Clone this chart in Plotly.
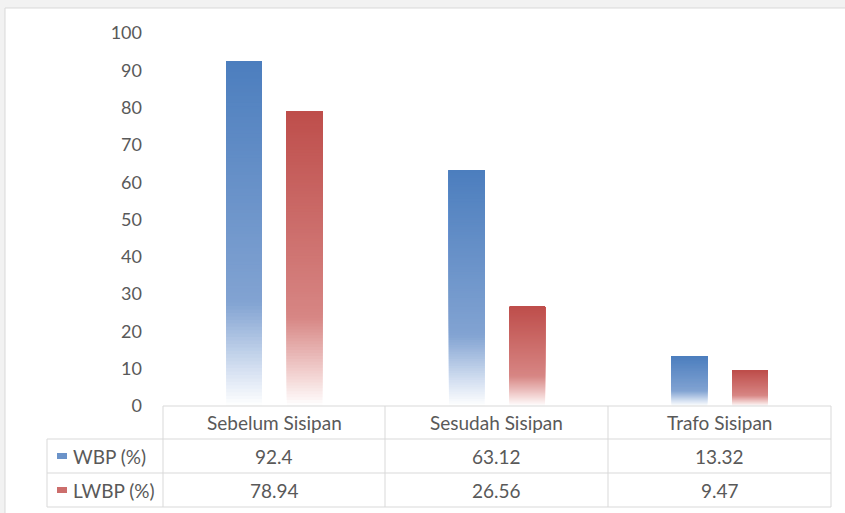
import plotly.graph_objects as go

categories = ["Sebelum Sisipan", "Sesudah Sisipan", "Trafo Sisipan"]
series_names = ["WBP (%)", "LWBP (%)"]
wbp = [92.4, 63.12, 13.32]
lwbp = [78.94, 26.56, 9.47]
value_labels_wbp = ["92.4", "63.12", "13.32"]
value_labels_lwbp = ["78.94", "26.56", "9.47"]
y_ticks = [0, 10, 20, 30, 40, 50, 60, 70, 80, 90, 100]

W, H = 845, 513
ML, MR, MT, MB = 163, 14, 33, 107
PW, PH = W - ML - MR, H - MT - MB
FONT = "Lato"
TXT = "#595959"
GRID = "#d9d9d9"

blue_stops = [(0.0, (255, 255, 255)), (0.1, (215, 226, 242)), (0.3, (130, 163, 210)), (1.0, (76, 126, 190))]
red_stops = [(0.0, (255, 255, 255)), (0.1, (243, 213, 212)), (0.3, (215, 134, 132)), (1.0, (190, 78, 75))]


def grad(stops, t):
    for (t0, c0), (t1, c1) in zip(stops[:-1], stops[1:]):
        if t0 <= t <= t1:
            f = (t - t0) / (t1 - t0)
            c = [round(a + (b_ - a) * f) for a, b_ in zip(c0, c1)]
            return "rgb(%d,%d,%d)" % tuple(c)
    return "rgb(%d,%d,%d)" % stops[-1][1]


N = 100
fig = go.Figure()
for name, vals, stops in [(series_names[0], wbp, blue_stops), (series_names[1], lwbp, red_stops)]:
    for k in range(N):
        tmid = (k + 0.5) / N
        fig.add_trace(go.Bar(
            x=categories,
            y=[v * (N - k) / N for v in vals],
            base=[v * k / N for v in vals],
            offsetgroup=name,
            marker=dict(color=grad(stops, tmid), line=dict(width=0)),
            showlegend=False,
            hoverinfo="skip",
            name=name,
        ))


def px_x(x):
    return (x - ML) / PW


def px_y(y):
    return (H - MB - y) / PH


shapes = []
# chart frame
shapes.append(dict(type="rect", xref="paper", yref="paper", x0=px_x(5), x1=px_x(850), y0=px_y(8), y1=px_y(520),
                   fillcolor="white", line=dict(color="#d9d9d9", width=1), layer="below"))

def hline(y, x0, x1):
    shapes.append(dict(type="line", xref="paper", yref="paper", x0=px_x(x0), x1=px_x(x1), y0=px_y(y), y1=px_y(y),
                       line=dict(color=GRID, width=1)))

def vline(x, y0, y1):
    shapes.append(dict(type="line", xref="paper", yref="paper", x0=px_x(x), x1=px_x(x), y0=px_y(y0), y1=px_y(y1),
                       line=dict(color=GRID, width=1)))

col_edges = [163, 385, 608, 831]
row_edges = [406, 439, 473, 507]
hline(406, 163, 831)
for y in row_edges[1:]:
    hline(y, 47, 831)
vline(47, 439, 507)
for x in col_edges:
    vline(x, 406, 507)

annotations = []
centers = [(col_edges[i] + col_edges[i + 1]) / 2 for i in range(3)]
row_c = [(row_edges[i] + row_edges[i + 1]) / 2 for i in range(3)]
TS = 19
for i, c in enumerate(categories):
    annotations.append(dict(text=c, x=px_x(centers[i]), y=px_y(row_c[0]), xref="paper", yref="paper",
                            showarrow=False, xanchor="center", yanchor="middle", font=dict(size=TS, color=TXT, family=FONT)))
for r, labels in enumerate([value_labels_wbp, value_labels_lwbp]):
    for i, t in enumerate(labels):
        annotations.append(dict(text=t, x=px_x(centers[i]), y=px_y(row_c[r + 1]), xref="paper", yref="paper",
                                showarrow=False, xanchor="center", yanchor="middle", font=dict(size=TS, color=TXT, family=FONT)))
key_cols = [grad(blue_stops, 0.6), grad(red_stops, 0.6)]
for r, nm in enumerate(series_names):
    yc = row_c[r + 1]
    shapes.append(dict(type="rect", xref="paper", yref="paper", x0=px_x(57), x1=px_x(67), y0=px_y(yc + 3), y1=px_y(yc - 3),
                       fillcolor=key_cols[r], line=dict(width=0)))
    annotations.append(dict(text=nm, x=px_x(71), y=px_y(yc), xref="paper", yref="paper", showarrow=False,
                            xanchor="left", yanchor="middle", font=dict(size=TS, color=TXT, family=FONT)))

fig.update_layout(
    width=W, height=H,
    margin=dict(l=ML, r=MR, t=MT, b=MB, pad=0),
    paper_bgcolor="#f2f2f2",
    plot_bgcolor="rgba(0,0,0,0)",
    barmode="group",
    bargap=0.457,
    bargroupgap=0.41,
    font=dict(family=FONT, color=TXT, size=16),
    xaxis=dict(showticklabels=False, showgrid=False, zeroline=False, showline=False, ticks=""),
    yaxis=dict(range=[0, 100], tickvals=y_ticks, showgrid=False, zeroline=False, showline=False, ticks="",
               ticklabelstandoff=20, tickfont=dict(size=18, color=TXT, family=FONT)),
    shapes=shapes,
    annotations=annotations,
    showlegend=False,
)

fig.write_html("out.html", config={"displayModeBar": False},
               post_script="document.body.style.margin='0';document.body.style.overflow='hidden';")
